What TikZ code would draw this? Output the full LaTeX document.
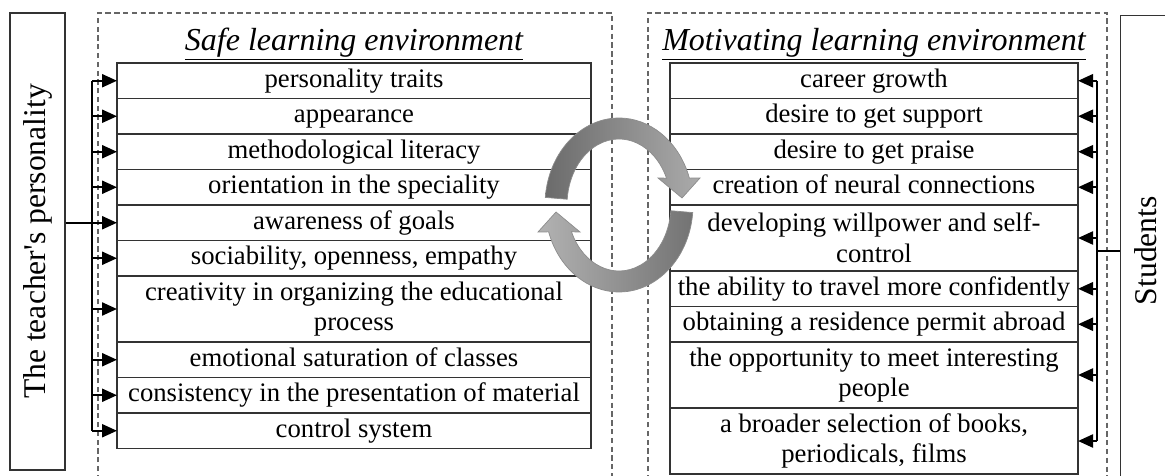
\documentclass[tikz,border=0pt]{standalone}
\usepackage{fontspec}
\setmainfont{Liberation Serif}
\usetikzlibrary{positioning,arrows.meta}

\begin{document}
\begin{tikzpicture}[x=0.2mm, y=-0.2mm,
        row/.style={draw=black!80, line width=1pt, outer sep=0pt, inner sep=0pt,
            minimum height=7.1mm, text height=11pt, text depth=3.5pt,
            align=center, font=\fontsize{15.2}{17.5}\selectfont},
        left row/.style={row, minimum width=94.8mm},
        right row/.style={row, minimum width=81.6mm},
        tall/.style={minimum height=13.2mm, text height=, text depth=},
        frame/.style={draw=black!60, densely dashed, line width=0.6pt},
        side/.style={draw=black!80, line width=0.8pt, inner sep=0pt,
            font=\fontsize{18}{20}\selectfont},
        heading/.style={inner sep=1pt, font=\fontsize{18.2}{20}\selectfont\itshape},
        bus/.style={line width=1.3pt},
        feed/.style={line width=1.3pt, -{Triangle[length=3mm,width=2.6mm]}},
        cycle arrow/.style={draw=black!45, line width=0.4pt}]
    \useasboundingbox (0,0) rectangle (1165,476);

    % dashed frames
    \draw[frame] (98,480) -- (98,13) -- (612,13) -- (612,480);
    \draw[frame] (648,480) -- (648,13) -- (1107,13) -- (1107,480);

    % side boxes
    \node[side, minimum width=11mm, minimum height=91.4mm] (teacher) at (37.5,241.5)
        {\rotatebox{90}{The teacher\textquotesingle s personality}};
    \node[side, minimum width=10mm, minimum height=94mm, anchor=north west] (students) at (1120,15)
        {\rotatebox{90}{Students}};

    % safe environment
    \node[left row, anchor=north west] (l1) at (117,63) {personality traits};
    \node[left row, below=0pt of l1] (l2) {appearance};
    \node[left row, below=0pt of l2] (l3) {methodological literacy};
    \node[left row, below=0pt of l3] (l4) {orientation in the speciality};
    \node[left row, below=0pt of l4] (l5) {awareness of goals};
    \node[left row, below=0pt of l5] (l6) {sociability, openness, empathy};
    \node[left row, tall, below=0pt of l6] (l7) {creativity in organizing the educational\\process};
    \node[left row, below=0pt of l7] (l8) {emotional saturation of classes};
    \node[left row, below=0pt of l8] (l9) {consistency in the presentation of material};
    \node[left row, below=0pt of l9] (l10) {control system};
    \node[heading, above=0pt of l1] (ltitle) {\underline{Safe learning environment}};

    % motivating environment
    \node[right row, anchor=north west] (r1) at (670,63) {career growth};
    \node[right row, below=0pt of r1] (r2) {desire to get support};
    \node[right row, below=0pt of r2] (r3) {desire to get praise};
    \node[right row, below=0pt of r3] (r4) {creation of neural connections};
    \node[right row, tall, below=0pt of r4] (r5) {developing willpower and self-\\control};
    \node[right row, below=0pt of r5] (r6) {the ability to travel more confidently};
    \node[right row, below=0pt of r6] (r7) {obtaining a residence permit abroad};
    \node[right row, tall, below=0pt of r7] (r8) {the opportunity to meet interesting\\people};
    \node[right row, tall, below=0pt of r8] (r9) {a broader selection of books,\\periodicals, films};
    \node[heading, above=0pt of r1] (rtitle) {\underline{Motivating learning environment}};

    % teacher -> rows
    \coordinate (lbus) at (92,0);
    \draw[bus] (lbus |- l1) -- (lbus |- l10);
    \foreach \i in {1,...,10}
        \draw[feed] (lbus |- l\i) -- (l\i.west);
    \draw[bus] (teacher.east |- l5) -- (lbus |- l5);

    % students -> rows
    \coordinate (rbus) at (1097,0);
    \draw[bus] (rbus |- r1) -- (rbus |- r9);
    \foreach \i in {1,...,9}
        \draw[feed] (rbus |- r\i) -- (r\i.east);
    \draw[bus] (rbus |- students.west) -- (students.west);

    % cycle between the two
    \begin{scope}[shift={(619,205)}]
        \shadedraw[cycle arrow, left color=black!58, right color=black!33]
            (185:74 and 87) arc[start angle=185, end angle=342, x radius=74, y radius=87]
            -- (81,-27) -- (63,-7) -- (39,-27)
            -- (336:52 and 66) arc[start angle=336, end angle=185, x radius=52, y radius=66]
            -- cycle;
        \shadedraw[cycle arrow, left color=black!30, right color=black!55]
            (5:74 and 87) arc[start angle=5, end angle=162, x radius=74, y radius=87]
            -- (-81,27) -- (-63,7) -- (-39,27)
            -- (156:52 and 66) arc[start angle=156, end angle=5, x radius=52, y radius=66]
            -- cycle;
    \end{scope}
\end{tikzpicture}
\end{document}
